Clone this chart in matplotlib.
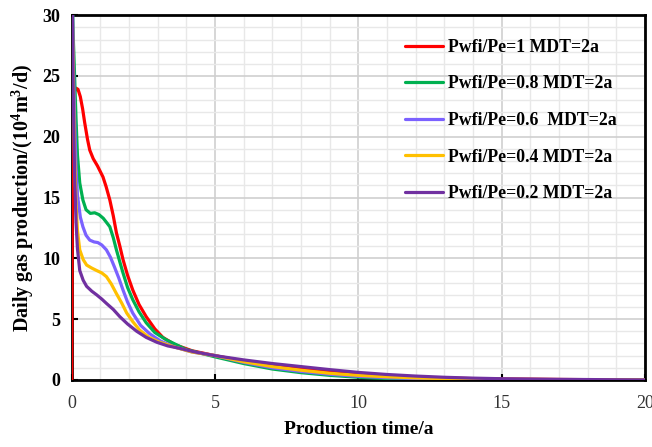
import matplotlib
matplotlib.use("Agg")
import matplotlib.pyplot as plt
from matplotlib.ticker import MultipleLocator

plt.rcParams["mathtext.fontset"] = "custom"
plt.rcParams["mathtext.rm"] = "Liberation Serif:bold"
plt.rcParams["mathtext.it"] = "Liberation Serif:bold"
plt.rcParams["mathtext.bf"] = "Liberation Serif:bold"

# ---- data ----
labels = ["Pwfi/Pe=1 MDT=2a", "Pwfi/Pe=0.8 MDT=2a", "Pwfi/Pe=0.6  MDT=2a",
          "Pwfi/Pe=0.4 MDT=2a", "Pwfi/Pe=0.2 MDT=2a"]
colors = ["#FF0000", "#00B050", "#7B61FF", "#FFC000", "#7030A0"]

red_x = [0, 0.03, 0.08, 0.15, 0.22, 0.3, 0.38, 0.45, 0.55, 0.63, 0.75, 0.9, 1.09,
         1.2, 1.33, 1.45, 1.56, 1.68, 1.79, 1.95, 2.13, 2.35, 2.6, 2.9, 3.18, 3.6, 4.2,
         5.0, 6, 7, 8, 9, 10, 11, 12, 13, 14, 15, 17, 20]
red_y = [0, 22, 23.6, 24.0, 23.9, 23.3, 22.3, 21.2, 19.8, 18.9, 18.2, 17.6, 16.7,
         15.9, 14.8, 13.5, 12.1, 11.0, 9.9, 8.6, 7.4, 6.2, 5.2, 4.2, 3.5, 2.9, 2.4,
         2.0, 1.55, 1.2, 0.9, 0.65, 0.47, 0.33, 0.23, 0.16, 0.11, 0.08, 0.04, 0.0]

green_x = [0, 0.05, 0.1, 0.15, 0.2, 0.28, 0.39, 0.5, 0.65, 0.8, 0.95, 1.1, 1.2, 1.33,
           1.45, 1.56, 1.68, 1.79, 1.95, 2.13, 2.35, 2.6, 2.9, 3.3, 4.0, 5.0, 6, 7, 8,
           9, 10, 11, 12, 13, 15, 20]
green_y = [34, 28.5, 25, 21.5, 18.5, 16.2, 14.8, 14.0, 13.7, 13.75, 13.6, 13.3, 13.0,
           12.6, 11.7, 10.7, 9.7, 8.8, 7.6, 6.6, 5.6, 4.7, 3.9, 3.3, 2.5, 1.9, 1.35,
           0.9, 0.6, 0.38, 0.22, 0.12, 0.07, 0.04, 0.02, 0]

blue_x = [0, 0.05, 0.1, 0.15, 0.2, 0.3, 0.39, 0.5, 0.63, 0.78, 0.91, 1.05, 1.21,
          1.35, 1.49, 1.64, 1.79, 1.95, 2.13, 2.4, 2.72, 3.1, 3.6, 4.2, 5.0, 6, 7, 8,
          9, 10, 11, 12, 13, 15, 20]
blue_y = [34, 27, 21.5, 17.5, 15.2, 13.4, 12.6, 11.9, 11.5, 11.35, 11.3, 11.1, 10.7,
          10.1, 9.3, 8.4, 7.4, 6.4, 5.5, 4.5, 3.8, 3.2, 2.7, 2.3, 2.0, 1.45, 1.0, 0.7,
          0.47, 0.3, 0.19, 0.12, 0.08, 0.04, 0]

yellow_x = [0, 0.05, 0.1, 0.15, 0.2, 0.28, 0.4, 0.52, 0.7, 0.87, 1.05, 1.21, 1.38,
            1.56, 1.75, 1.92, 2.13, 2.37, 2.7, 3.07, 3.6, 4.2, 5.0, 6, 7, 8, 9, 10, 11,
            12, 13, 15, 20]
yellow_y = [34, 25, 18.5, 14.5, 12.3, 10.7, 9.9, 9.45, 9.2, 9.0, 8.8, 8.5, 7.9,
            7.1, 6.3, 5.5, 4.8, 4.1, 3.5, 3.1, 2.7, 2.3, 2.0, 1.5, 1.1, 0.8, 0.55,
            0.38, 0.26, 0.17, 0.11, 0.05, 0]

purple_x = [0, 0.05, 0.1, 0.15, 0.2, 0.28, 0.4, 0.52, 0.7, 0.87, 1.05, 1.21, 1.45,
            1.68, 1.95, 2.27, 2.6, 2.97, 3.35, 3.77, 4.3, 5.0, 6, 7, 8, 9, 10, 11, 12,
            13, 14, 15, 17, 20]
purple_y = [36, 24, 17, 13.0, 10.8, 9.0, 8.2, 7.7, 7.3, 7.0, 6.65, 6.3, 5.8,
            5.2, 4.6, 4.0, 3.5, 3.1, 2.8, 2.6, 2.3, 2.0, 1.65, 1.35, 1.1, 0.85, 0.62,
            0.45, 0.32, 0.22, 0.15, 0.1, 0.05, 0]

series = [(red_x, red_y), (green_x, green_y), (blue_x, blue_y),
          (yellow_x, yellow_y), (purple_x, purple_y)]

x_ticks = [0, 5, 10, 15, 20]
y_ticks = [0, 5, 10, 15, 20, 25, 30]

serif = ["Liberation Serif", "DejaVu Serif"]

fig = plt.figure(figsize=(6.52, 4.47), dpi=100)
ax = fig.add_axes([0.110, 0.150, 0.879, 0.816])

for (xs, ys), c, lab in zip(series, colors, labels):
    ax.plot(xs, ys, color=c, lw=2.3, label=lab, solid_joinstyle="round",
            solid_capstyle="round", zorder=3)

ax.set_xlim(0, 20)
ax.set_ylim(0, 30)
ax.set_xticks(x_ticks)
ax.set_yticks(y_ticks)
ax.xaxis.set_minor_locator(MultipleLocator(1))
ax.yaxis.set_minor_locator(MultipleLocator(1))
ax.grid(which="minor", color="#E8E8E8", lw=1.0, zorder=0)
ax.grid(which="major", color="#CFCFCF", lw=1.2, zorder=0)
ax.set_axisbelow(True)

ax.tick_params(which="major", direction="in", length=4, width=1.5, color="black",
               top=False, right=False)
ax.tick_params(which="minor", length=0)
ax.tick_params(axis="x", pad=11)
ax.tick_params(axis="y", pad=8)

for sp in ax.spines.values():
    sp.set_linewidth(2.0)
    sp.set_color("black")

for t in ax.get_yticklabels():
    t.set_fontfamily(serif)
    t.set_fontweight("bold")
    t.set_fontsize(13)
for t in ax.get_xticklabels():
    t.set_fontfamily(serif)
    t.set_fontsize(13)
    t.set_color("#333333")

ax.set_xlabel("Production time/a", fontfamily=serif, fontweight="bold", fontsize=14,
              labelpad=6)
ax.set_ylabel("Daily gas production/(10$^4$m$^3$/d)", fontfamily=serif,
              fontweight="bold", fontsize=14.5, labelpad=5)

leg = ax.legend(loc="upper left", bbox_to_anchor=(0.581, 0.935), frameon=False,
                prop={"family": serif, "weight": "bold", "size": 12.8},
                handlelength=2.15, labelspacing=1.1, handletextpad=0.3,
                borderpad=0, borderaxespad=0)

fig.savefig("out.png", dpi=100)
